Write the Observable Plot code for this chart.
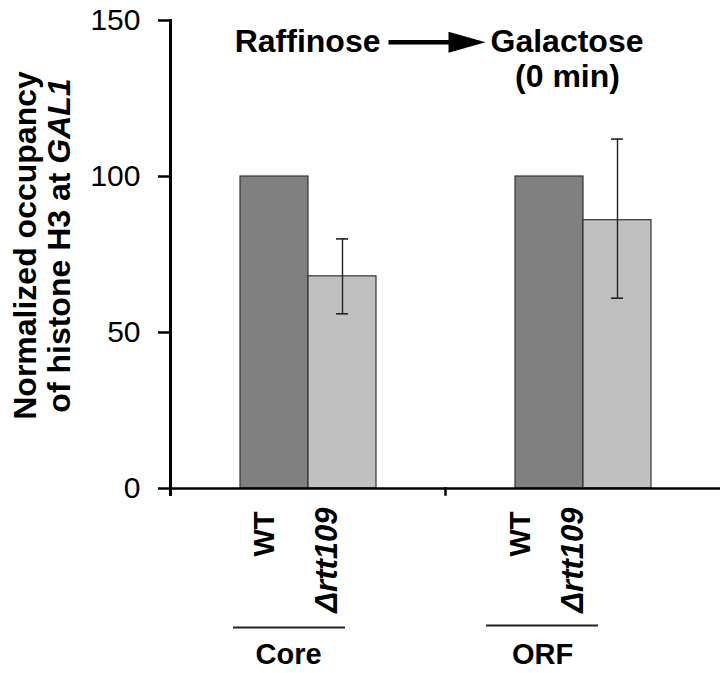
<!DOCTYPE html>
<html>
<head>
<meta charset="utf-8">
<script src="https://cdn.jsdelivr.net/npm/d3@7"></script>
<script src="https://cdn.jsdelivr.net/npm/@observablehq/plot@0.6"></script>
<style>
  html, body { margin: 0; padding: 0; background: #fff; }
  svg { display: block; overflow: visible; }
</style>
</head>
<body>
<div id="chart"></div>
<script>
// ---- data ----
const groups = ["Core", "ORF"];
const strains = ["WT", "Δrtt109"];
const wtValues = [100, 100];
const mutValues = [68, 86];
const mutErrLow = [56, 61];
const mutErrHigh = [80, 112];
const yTicks = [0, 50, 100, 150];
const titleFrom = "Raffinose";
const titleTo = "Galactose";
const titleTime = "(0 min)";
const yLabelLines = ["Normalized occupancy", "of histone H3 at *GAL1*"];

const bars = groups.flatMap((g, i) => [
  {group: g, strain: strains[0], value: wtValues[i]},
  {group: g, strain: strains[1], value: mutValues[i]}
]);
const errs = groups.map((g, i) => ({group: g, strain: strains[1], lo: mutErrLow[i], hi: mutErrHigh[i]}));
const strainLabels = groups.flatMap(g => strains.map(s => ({group: g, strain: s})));
const groupRows = groups.map(g => ({group: g}));

// filled arrow (shaft + head) as a custom symbol
const arrowSymbol = {
  draw(ctx) {
    ctx.moveTo(-48.5, -2.3);
    ctx.lineTo(11.5, -2.3);
    ctx.lineTo(11.5, -10.5);
    ctx.lineTo(48.5, 0);
    ctx.lineTo(11.5, 10.5);
    ctx.lineTo(11.5, 2.3);
    ctx.lineTo(-48.5, 2.3);
    ctx.closePath();
  }
};

// render transform: *text* -> italic tspan
function italicize(index, scales, values, dims, ctx, next) {
  const g = next(index, scales, values, dims, ctx);
  d3.select(g).selectAll("text").each(function () {
    const t = this.textContent;
    if (!t.includes("*")) return;
    const parts = t.split("*");
    this.textContent = "";
    parts.forEach((p, i) => {
      if (!p) return;
      const ts = d3.select(this).append("tspan").text(p);
      if (i % 2) ts.attr("font-style", "italic");
    });
  });
  return g;
}

const BOLD = {fontWeight: "bold", fill: "black", lineAnchor: "middle"};
const byGroupStrain = (g, s) => strainLabels.filter(d => d.group === g && d.strain === s);
const strainOffset = {Core: [-10, -15], ORF: [-29, -44]};
const labelOffset = {Core: -19.5, ORF: -40.5};
const underline = {Core: [63, 100, 139], ORF: [41, 122, 137]};

const marks = [
  // bars
  Plot.barY(bars, {fx: "group", x: "strain", y: "value", fill: "strain", stroke: "#333", strokeWidth: 1.2}),
  // error bars
  Plot.ruleX(errs, {fx: "group", x: "strain", y1: "lo", y2: "hi", stroke: "#222", strokeWidth: 1.4}),
  Plot.tickY(errs, {fx: "group", x: "strain", y: "lo", stroke: "#222", strokeWidth: 1.6, insetLeft: 28, insetRight: 28}),
  Plot.tickY(errs, {fx: "group", x: "strain", y: "hi", stroke: "#222", strokeWidth: 1.6, insetLeft: 28, insetRight: 28}),
  // x axis line and group boundary ticks
  Plot.ruleY([0], {stroke: "black", strokeWidth: 2.5}),
  Plot.frame({anchor: "left", insetTop: 468, insetBottom: -6, stroke: "black", strokeWidth: 2.5}),
  // y axis line
  Plot.frame({anchor: "left", facetAnchor: "left", insetBottom: -6, stroke: "black", strokeWidth: 3}),
  Plot.axisY({ticks: yTicks, tickSize: 12, tickPadding: 18, fontSize: 30, strokeWidth: 2.5, label: null, fill: "black", stroke: "black"}),
  // y label (two rotated lines)
  Plot.text([{group: groups[0], t: yLabelLines[0]}], {fx: "group", text: "t", frameAnchor: "left", textAnchor: "middle", rotate: -90, dx: -145, dy: -9, fontSize: 32, ...BOLD}),
  Plot.text([{group: groups[0], t: yLabelLines[1]}], {fx: "group", text: "t", frameAnchor: "left", textAnchor: "middle", rotate: -90, dx: -111, dy: -9, fontSize: 32, ...BOLD, render: italicize}),
  // title
  Plot.text([{group: groups[1], t: titleFrom}], {fx: "group", text: "t", frameAnchor: "top-left", textAnchor: "end", dx: -65, dy: 21, fontSize: 32, ...BOLD}),
  Plot.text([{group: groups[1], t: titleTo}], {fx: "group", text: "t", frameAnchor: "top-left", textAnchor: "start", dx: 45, dy: 21, fontSize: 32, ...BOLD}),
  Plot.text([{group: groups[1], t: titleTime}], {fx: "group", text: "t", frameAnchor: "top-left", textAnchor: "middle", dx: 122, dy: 56, fontSize: 32, ...BOLD}),
  Plot.dot([{group: groups[1]}], {fx: "group", frameAnchor: "top-left", dx: -8.5, dy: 21.7, symbol: arrowSymbol, fill: "black", stroke: "none", r: 5})
];

// strain labels under bars (rotated), and group labels with underline
for (const g of groups) {
  marks.push(
    Plot.text(byGroupStrain(g, strains[0]), {fx: "group", x: "strain", text: "strain", frameAnchor: "bottom", rotate: -90, textAnchor: "end", dx: strainOffset[g][0], dy: 23, fontSize: 29, ...BOLD}),
    Plot.text(byGroupStrain(g, strains[1]), {fx: "group", x: "strain", text: "strain", frameAnchor: "bottom", rotate: -90, textAnchor: "end", dx: strainOffset[g][1], dy: 19, fontSize: 31, fontStyle: "italic", ...BOLD}),
    Plot.ruleY(groupRows.filter(d => d.group === g), {fx: "group", y: () => 0, dy: underline[g][2], insetLeft: underline[g][0], insetRight: underline[g][1], stroke: "#222", strokeWidth: 2.2}),
    Plot.text(groupRows.filter(d => d.group === g), {fx: "group", text: "group", frameAnchor: "bottom", dx: labelOffset[g], dy: 166, fontSize: 29, ...BOLD})
  );
}

const chart = Plot.plot({
  width: 720,
  height: 673,
  marginTop: 20,
  marginBottom: 185,
  marginLeft: 170,
  marginRight: 0,
  style: {fontFamily: "'Liberation Sans', Arial, sans-serif", background: "white", overflow: "visible"},
  fx: {domain: groups, padding: 0, axis: null, label: null},
  x: {domain: strains, paddingInner: 0, paddingOuter: 1, axis: null, label: null},
  y: {domain: [0, 150], axis: null, label: null},
  color: {domain: strains, range: ["#808080", "#c0c0c0"]},
  marks
});
document.getElementById("chart").appendChild(chart);
</script>
</body>
</html>
